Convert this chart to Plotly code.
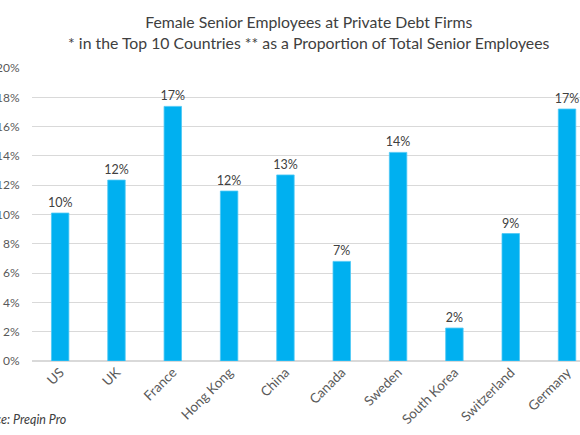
import plotly.graph_objects as go

countries = ['US', 'UK', 'France', 'Hong Kong', 'China', 'Canada', 'Sweden',
             'South Korea', 'Switzerland', 'Germany']
female_share = [0.101, 0.1235, 0.1738, 0.116, 0.127, 0.068, 0.1424, 0.0225, 0.087, 0.172]

bar_blue = '#00b0f0'
grey_text = '#595959'
font_family = 'Lato, Open Sans, sans-serif'

fig = go.Figure(
    data=[go.Bar(x=countries, y=female_share,
                 marker=dict(color=bar_blue, line=dict(color='#4cc8f5', width=0.8)),
                 texttemplate='%{y:.0%}', textposition='outside', cliponaxis=False,
                 constraintext='none',
                 textfont=dict(size=12.5, color='#404040', family=font_family))]
)

fig.update_layout(
    width=580, height=435,
    margin=dict(l=32, r=0, t=68, b=74),
    plot_bgcolor='white', paper_bgcolor='white',
    font=dict(family=font_family, color=grey_text, size=12),
    bargap=0.69,
    showlegend=False,
    title=dict(text='Female Senior Employees at Private Debt Firms<br>'
                    '* in the Top 10 Countries ** as a Proportion of Total Senior Employees',
               x=0.505, xref='paper', xanchor='center',
               y=1 - 28 / 435, yref='container', yanchor='top',
               font=dict(size=15.8, color='#404040', family=font_family)),
)

fig.update_xaxes(range=[-0.5, 9.23], tickangle=-45, showgrid=False, automargin=False,
                 showline=False, ticks='', tickfont=dict(size=13.5, color=grey_text))
fig.update_yaxes(range=[0, 0.2], dtick=0.02, tickformat='.0%', showgrid=True, automargin=False,
                 gridcolor='#d9d9d9', gridwidth=1, zeroline=True, zerolinecolor='#d9d9d9',
                 ticks='outside', ticklen=9, tickcolor='rgba(0,0,0,0)',
                 tickfont=dict(size=12, color=grey_text))

fig.add_annotation(text='<i>Source: Preqin Pro</i>', xref='paper', yref='paper',
                   x=0.066, y=-0.2, xanchor='right', yanchor='middle', showarrow=False,
                   font=dict(size=12.5, color='#404040', family=font_family))

# the page's default body margin would shift the chart by 8px
fig.write_html('out.html', config={'displayModeBar': False},
               post_script="document.body.style.margin='0';")
